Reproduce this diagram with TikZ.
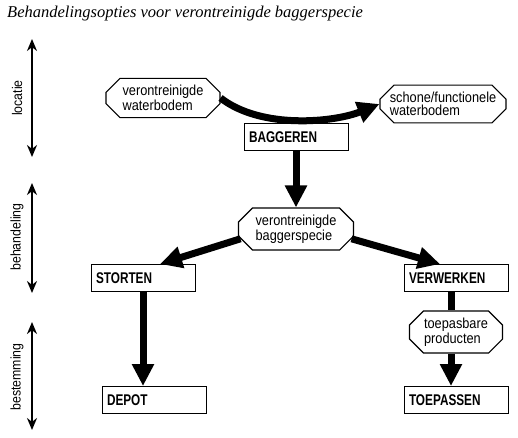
\documentclass[tikz,border=0pt]{standalone}
\usepackage{fontspec}
\usetikzlibrary{arrows.meta,shapes.misc}
\newfontfamily\boxfont{Liberation Sans}[FakeStretch=0.88]
\newfontfamily\labelfont{Liberation Sans}[FakeStretch=0.76]
\newfontfamily\titlefont{Liberation Serif}
\tikzset{
    stepbox/.style={draw,line width=1pt,fill=white,minimum height=27pt,text width=94pt,inner sep=5pt,align=left,
        font=\labelfont\bfseries\fontsize{15.5}{17}\selectfont},
    matter/.style={draw,line width=1.1pt,fill=white,chamfered rectangle,chamfered rectangle sep=7pt,inner sep=0pt,align=left,
        font=\boxfont\fontsize{14.5}{13}\selectfont},
    flow/.style={line width=7pt,-{Triangle[width=21pt,length=22pt]}},
    flowline/.style={line width=7pt},
    spanarrow/.style={line width=2pt,{Stealth[width=10pt,length=12pt]}-{Stealth[width=10pt,length=12pt]}},
    spanlabel/.style={rotate=90,font=\boxfont\fontsize{14}{16}\selectfont}
}

\begin{document}
\begin{tikzpicture}[x=1pt,y=-1pt]
    \useasboundingbox (0,0) rectangle (518,437);
    % Title
    \node[anchor=base west,inner sep=0pt,font=\titlefont\fontsize{16.5}{18}\selectfont\itshape] (title) at (7,17)
        {Behandelingsopties voor verontreinigde baggerspecie};
    % Phases on the left
    \coordinate (loctop) at (32,39);
    \coordinate (locbot) at (32,157);
    \coordinate (behtop) at (32,183);
    \coordinate (behbot) at (32,293);
    \coordinate (bestop) at (32,322);
    \coordinate (besbot) at (32,430);
    \draw[spanarrow] (loctop) -- (locbot);
    \draw[spanarrow] (behtop) -- (behbot);
    \draw[spanarrow] (bestop) -- (besbot);
    \node[spanlabel] (locatie) at (17,98) {locatie};
    \node[spanlabel] (behandeling) at (17,237) {behandeling};
    \node[spanlabel] (bestemming) at (17,377) {bestemming};
    % Nodes
    \node[matter,minimum width=114pt,minimum height=26pt] (bodem) at (163,98) {verontreinigde\\waterbodem};
    \node[matter,minimum width=126pt,minimum height=32pt] (schoon) at (443,104) {schone/functionele\\waterbodem};
    \node[stepbox] (baggeren) at (296,137) {BAGGEREN};
    \node[matter,minimum width=115pt,minimum height=35pt] (specie) at (296,229) {verontreinigde\\baggerspecie};
    \node[stepbox] (storten) at (143,278) {STORTEN};
    \node[stepbox] (verwerken) at (456,278) {VERWERKEN};
    \node[matter,minimum width=93pt,minimum height=36pt] (producten) at (456,332) {toepasbare\\producten};
    \node[stepbox] (depot) at (154,400) {DEPOT};
    \node[stepbox] (toepassen) at (456,400) {TOEPASSEN};
    % Flows
    \draw[flow] (bodem.east) .. controls (262,130) and (335,122) .. (schoon.west);
    \draw[flow] (baggeren.south) -- (specie.north);
    \draw[flow] (specie.190) -- ([xshift=17pt]storten.north);
    \draw[flow] (specie.350) -- ([xshift=-16pt]verwerken.north);
    \draw[flow] (storten.south) -- (storten.south |- depot.north);
    \draw[flowline] ([xshift=-5pt]verwerken.south) -- ([xshift=-5pt]verwerken.south |- producten.north);
    \draw[flow] ([xshift=-5pt]producten.south) -- ([xshift=-5pt]producten.south |- toepassen.north);
\end{tikzpicture}
\end{document}
